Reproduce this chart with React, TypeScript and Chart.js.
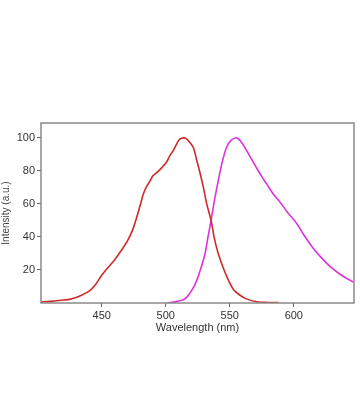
import React, { useEffect, useRef } from "react";
import { Chart, registerables } from "chart.js";

Chart.register(...registerables);

const redWavelengths = [402, 410, 420, 425, 430, 435, 441, 445, 450, 455, 460, 465, 470, 474, 477, 480, 482.5, 485, 487.8, 490, 493, 497, 500.8, 503, 506, 509, 511, 513.8, 516, 518.5, 521.6, 524, 527, 529.4, 532, 535.4, 538, 541, 545, 549, 553, 558, 563, 571, 580, 588];
const redIntensity = [0.6, 1.0, 1.8, 2.2, 3.3, 5, 7.7, 11, 16.8, 21.5, 26, 31.5, 37.5, 44, 51, 59, 66, 70.5, 74, 77, 79, 82, 85.5, 89, 92.5, 97, 99.3, 100, 99.5, 97.5, 94, 87, 78, 70, 60, 50, 39, 30, 21, 13.7, 8, 4.7, 2.5, 0.8, 0.3, 0.2];

const magentaWavelengths = [500.8, 505, 510, 513.8, 517, 521, 524.2, 527, 530.7, 533, 535.4, 538, 541, 544, 547.6, 551, 555.5, 559, 564.5, 570, 575, 578.9, 584, 589.3, 595, 602.4, 608, 615.3, 622, 628.4, 635, 641, 646.6];
const magentaIntensity = [0, 0.4, 1.2, 2, 4, 8.5, 13.7, 20, 30, 40, 50, 62, 74, 85, 94.5, 98.5, 100, 97.5, 90.5, 83, 76.5, 72, 66, 61, 55, 48, 41, 33, 27, 22, 18, 15, 12.7];

const xTicks = [450, 500, 550, 600];
const yTicks = [20, 40, 60, 80, 100];

const frame = {
  id: "frame",
  afterDraw(chart: any) {
    const { ctx, chartArea } = chart;
    ctx.save();
    ctx.strokeStyle = "#8a8a8a";
    ctx.lineWidth = 1.5;
    ctx.strokeRect(chartArea.left, chartArea.top, chartArea.right - chartArea.left, chartArea.bottom - chartArea.top);
    ctx.restore();
  },
};

export default function App() {
  const ref = useRef<HTMLCanvasElement>(null);
  useEffect(() => {
    const toPts = (xs: number[], ys: number[]) => xs.map((x, i) => ({ x, y: ys[i] }));
    const chart = new Chart(ref.current!, {
      type: "line",
      data: {
        datasets: [
          {
            data: toPts(redWavelengths, redIntensity),
            borderColor: "#cf2a2a",
            borderWidth: 1.6,
            pointRadius: 0,
            tension: 0.35,
          },
          {
            data: toPts(magentaWavelengths, magentaIntensity),
            borderColor: "#dd33dd",
            borderWidth: 1.6,
            pointRadius: 0,
            tension: 0.35,
          },
        ],
      },
      options: {
        animation: false,
        responsive: false,
        events: [],
        layout: { padding: { left: 0, top: 123, right: 6, bottom: 85 } },
        plugins: { legend: { display: false }, tooltip: { enabled: false } },
        scales: {
          x: {
            type: "linear",
            min: 402.6,
            max: 647,
            afterBuildTicks: (s: any) => { s.ticks = xTicks.map((v) => ({ value: v })); },
            afterFit: (s: any) => { s.height = 32; },
            grid: { drawOnChartArea: false, drawTicks: true, tickLength: 4, color: "#666" },
            border: { display: false },
            ticks: { color: "#333", font: { family: "Liberation Sans, Arial", size: 11 }, padding: 2, maxRotation: 0 },
            title: { display: true, text: "Wavelength (nm)", color: "#333", font: { family: "Liberation Sans, Arial", size: 11 }, padding: { top: 0, bottom: 0 } },
          },
          y: {
            type: "linear",
            min: 0,
            max: 109,
            afterBuildTicks: (s: any) => { s.ticks = yTicks.map((v) => ({ value: v })); },
            afterFit: (s: any) => { s.width = 41; },
            grid: { drawOnChartArea: false, drawTicks: true, tickLength: 4, color: "#666" },
            border: { display: false },
            ticks: { color: "#333", font: { family: "Liberation Sans, Arial", size: 11 }, padding: 2 },
            title: { display: true, text: "Intensity (a.u.)", color: "#444", font: { family: "Liberation Sans, Arial", size: 10 }, padding: { top: 0, bottom: 0 } },
          },
        },
      },
      plugins: [frame],
    } as any);
    return () => chart.destroy();
  }, []);
  return (
    <div style={{ position: "absolute", left: 0, top: 0, width: 360, height: 420, background: "#fff" }}>
      <canvas ref={ref} width={360} height={420} style={{ width: 360, height: 420 }} />
    </div>
  );
}
